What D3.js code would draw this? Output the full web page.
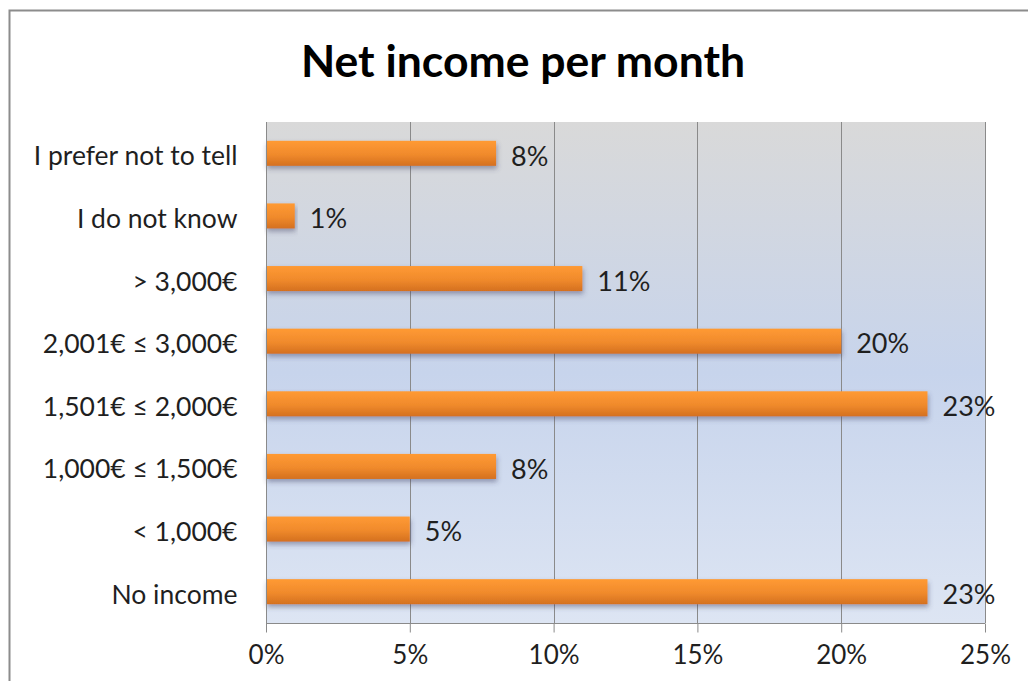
<!DOCTYPE html>
<html>
<head>
<meta charset="utf-8">
<script src="https://cdn.jsdelivr.net/npm/d3@7"></script>
<style>
  html, body { margin: 0; padding: 0; background: #ffffff; }
  svg { display: block; }
  text { font-family: Lato, "Open Sans", sans-serif; fill: #1f1f1f; }
</style>
</head>
<body>
<svg id="chart" width="1028" height="681"></svg>
<script>
// Survey answers, listed top to bottom
const categories = [
  "I prefer not to tell",
  "I do not know",
  "> 3,000€",
  "2,001€ ≤ 3,000€",
  "1,501€ ≤ 2,000€",
  "1,000€ ≤ 1,500€",
  "< 1,000€",
  "No income"
];
const shares = [8, 1, 11, 20, 23, 8, 5, 23];
const tickValues = [0, 5, 10, 15, 20, 25];
const title = "Net income per month";

const W = 1028, H = 681;
const plot = { left: 266, right: 985, top: 122, bottom: 623 };

const svg = d3.select("#chart");
const defs = svg.append("defs");

// Plot area backdrop: grey at the top fading into pale blue
const bg = defs.append("linearGradient").attr("id", "bgGrad")
  .attr("x1", 0).attr("y1", 0).attr("x2", 0).attr("y2", 1);
bg.append("stop").attr("offset", "0%").attr("stop-color", "#d9d9d9");
bg.append("stop").attr("offset", "50%").attr("stop-color", "#c7d4ec");
bg.append("stop").attr("offset", "100%").attr("stop-color", "#dde5f3");

// Bar fill: bright orange on top, deeper orange underneath
const barGrad = defs.append("linearGradient").attr("id", "barGrad")
  .attr("x1", 0).attr("y1", 0).attr("x2", 0).attr("y2", 1);
barGrad.append("stop").attr("offset", "0%").attr("stop-color", "#ff9a33");
barGrad.append("stop").attr("offset", "55%").attr("stop-color", "#f08a2c");
barGrad.append("stop").attr("offset", "100%").attr("stop-color", "#d4701f");

const shadow = defs.append("filter").attr("id", "barShadow")
  .attr("x", "-5%").attr("y", "-40%").attr("width", "115%").attr("height", "200%");
shadow.append("feDropShadow").attr("dx", 1).attr("dy", 3)
  .attr("stdDeviation", 2.5).attr("flood-color", "#404060").attr("flood-opacity", 0.45);

// Outer frame of the chart
svg.append("rect")
  .attr("x", 9.5).attr("y", 10.5).attr("width", W + 20).attr("height", H + 20)
  .attr("fill", "#ffffff").attr("stroke", "#8c8c8c").attr("stroke-width", 2);

svg.append("text")
  .attr("x", 523).attr("y", 77)
  .attr("text-anchor", "middle")
  .attr("font-size", 44.5).attr("font-weight", 700)
  .style("fill", "#000")
  .text(title);

const x = d3.scaleLinear().domain([0, 25]).range([plot.left, plot.right]);
const y = d3.scaleBand().domain(categories).range([plot.top, plot.bottom]).paddingInner(0.6).paddingOuter(0.3);

svg.append("rect")
  .attr("x", plot.left).attr("y", plot.top)
  .attr("width", plot.right - plot.left).attr("height", plot.bottom - plot.top)
  .attr("fill", "url(#bgGrad)");

// Vertical gridlines
svg.append("g").selectAll("line").data(tickValues.slice(1)).join("line")
  .attr("x1", d => Math.round(x(d)) + 0.5).attr("x2", d => Math.round(x(d)) + 0.5)
  .attr("y1", plot.top).attr("y2", plot.bottom)
  .attr("stroke", "#8a8a8a").attr("stroke-width", 1);

// Bars
svg.append("g").selectAll("rect").data(categories).join("rect")
  .attr("x", plot.left)
  .attr("y", d => y(d))
  .attr("width", (d, i) => x(shares[i]) - x(0))
  .attr("height", y.bandwidth())
  .attr("fill", "url(#barGrad)")
  .attr("filter", "url(#barShadow)");

// Value labels
svg.append("g").selectAll("text").data(categories).join("text")
  .attr("x", (d, i) => x(shares[i]) + 15)
  .attr("y", d => y(d) + y.bandwidth() / 2 + 2.5)
  .attr("dy", "0.36em")
  .attr("font-size", 27)
  .text((d, i) => shares[i] + "%");

// Horizontal axis
const xAxis = d3.axisBottom(x).tickValues(tickValues).tickFormat(d => d + "%")
  .tickSize(9).tickPadding(13);
const gx = svg.append("g").attr("transform", `translate(0,${plot.bottom + 0.5})`).call(xAxis);
gx.select(".domain").attr("stroke", "#8a8a8a").attr("d", `M${plot.left},0H${plot.right}`);
gx.selectAll(".tick line").attr("stroke", "#8a8a8a");
gx.selectAll(".tick text").attr("font-size", 26).attr("font-family", "Lato, sans-serif").style("fill", "#1f1f1f");

// Vertical axis
const yAxis = d3.axisLeft(y).tickSize(0).tickPadding(29);
const gy = svg.append("g").attr("transform", `translate(${plot.left + 0.5},0)`).call(yAxis);
gy.select(".domain").attr("stroke", "#8a8a8a").attr("d", `M0,${plot.top}V${plot.bottom + 9}`);
gy.selectAll(".tick text").attr("font-size", 26.5).attr("font-family", "Lato, sans-serif")
  .attr("dy", "0.45em").style("fill", "#1f1f1f");
</script>
</body>
</html>
